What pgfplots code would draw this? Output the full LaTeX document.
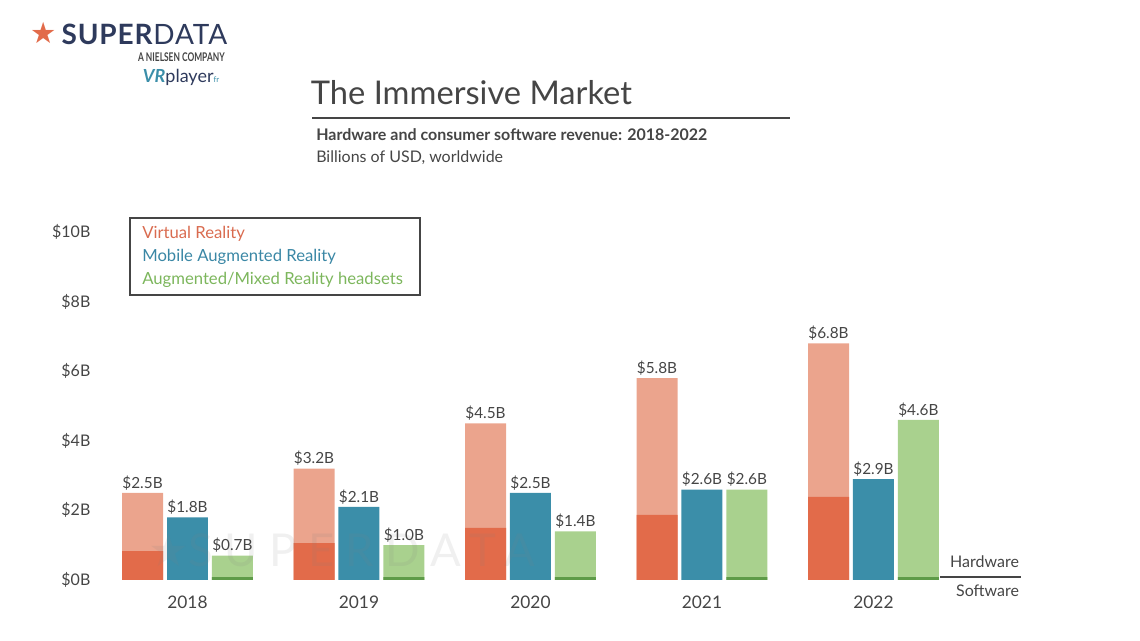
\documentclass[border=0pt]{standalone}
\usepackage{fontspec}
\setmainfont{Lato}
\newfontfamily\symfont{DejaVu Sans}
\usepackage{pgfplots}
\pgfplotsset{compat=1.18}
\definecolor{vrlight}{HTML}{EBA48D}
\definecolor{vrdark}{HTML}{E26B4A}
\definecolor{marblue}{HTML}{3B8EA9}
\definecolor{arlight}{HTML}{A9D18E}
\definecolor{ardark}{HTML}{5E9B48}
\definecolor{txt}{HTML}{454545}
\definecolor{navy}{HTML}{2E3A5C}
\definecolor{legvr}{HTML}{D96B4F}
\definecolor{legmar}{HTML}{3A87A5}
\definecolor{legar}{HTML}{7CB65C}
\begin{document}
\begin{tikzpicture}
\path[use as bounding box] (0,0) rectangle (855pt,480.75pt);
% logo
\node[anchor=center,text=vrdark,font=\symfont\fontsize{22}{22}\selectfont,inner sep=0] at (33pt,456pt) {★};
\node[anchor=west,text=navy,font=\fontsize{21}{21}\selectfont\addfontfeature{LetterSpace=3},inner sep=0] at (46pt,455pt) {\textbf{SUPER}DATA};
\node[anchor=east,text=txt,inner sep=0] at (168.75pt,438pt) {\scalebox{0.7}[1]{\fontsize{9}{9}\selectfont\bfseries A NIELSEN COMPANY}};
\node[anchor=west,inner sep=0,font=\fontsize{13.5}{13.5}\selectfont] at (107pt,423pt) {\textcolor{marblue}{\textbf{\textit{VR}}}\textcolor{navy}{player}\textcolor{marblue}{\fontsize{6}{6}\selectfont fr}};
% title
\node[anchor=base west,inner sep=0,text=txt,font=\fontsize{24.5}{24.5}\selectfont] at (233pt,402pt) {The Immersive Market};
\draw[txt,line width=1.3pt] (234pt,392.25pt) -- (592.5pt,392.25pt);
\node[anchor=base west,inner sep=0,text=txt,font=\fontsize{12}{12}\selectfont\bfseries] at (237pt,375pt) {Hardware and consumer software revenue: 2018-2022};
\node[anchor=base west,inner sep=0,text=txt,font=\fontsize{12}{12}\selectfont] at (237pt,358.5pt) {Billions of USD, worldwide};
% legend box
\draw[txt,line width=1pt] (97.5pt,259.5pt) rectangle (315pt,317.25pt);
\node[anchor=west,inner sep=0,text=legvr,font=\fontsize{12.5}{12.5}\selectfont] at (106.5pt,305.25pt) {Virtual Reality};
\node[anchor=west,inner sep=0,text=legmar,font=\fontsize{12.5}{12.5}\selectfont] at (106.5pt,288pt) {Mobile Augmented Reality};
\node[anchor=west,inner sep=0,text=legar,font=\fontsize{12.5}{12.5}\selectfont] at (106.5pt,270.75pt) {Augmented/Mixed Reality headsets};
\begin{axis}[
  at={(76.31pt,45.75pt)}, anchor=south west,
  scale only axis, width=643.1pt, height=261pt,
  xmin=-0.5, xmax=4.5, ymin=0, ymax=10,
  clip=false,
  axis line style={draw=none},
  major tick style={draw=none},
  xtick={0,1,2,3,4},
  xticklabels={2018,2019,2020,2021,2022},
  ytick={0,2,4,6,8,10},
  yticklabel={\$\pgfmathprintnumber{\tick}B},
  /pgf/number format/assume math mode=true,
  xticklabel style={font=\fontsize{13}{13}\selectfont, text=txt, yshift=-4pt},
  yticklabel style={font=\fontsize{12}{12}\selectfont, text=txt, xshift=-5pt},
  ybar, bar shift=0pt, bar width=0.239,
  every node near coord/.append style={font=\fontsize{11.5}{11.5}\selectfont, text=txt, inner sep=2pt},
]
% VR total (hardware + software)
\addplot[fill=vrlight, draw=none,
  nodes near coords={\$\pgfmathprintnumber[fixed,fixed zerofill,precision=1]{\pgfplotspointmeta}B}]
  coordinates {(-0.262,2.5) (0.738,3.2) (1.738,4.5) (2.738,5.8) (3.738,6.8)};
% VR software
\addplot[fill=vrdark, draw=none]
  coordinates {(-0.262,0.83) (0.738,1.06) (1.738,1.5) (2.738,1.87) (3.738,2.39)};
% Mobile AR
\addplot[fill=marblue, draw=none,
  nodes near coords={\$\pgfmathprintnumber[fixed,fixed zerofill,precision=1]{\pgfplotspointmeta}B}]
  coordinates {(0,1.8) (1,2.1) (2,2.5) (3,2.6) (4,2.9)};
% AR/MR headsets total
\addplot[fill=arlight, draw=none,
  nodes near coords={\$\pgfmathprintnumber[fixed,fixed zerofill,precision=1]{\pgfplotspointmeta}B}]
  coordinates {(0.262,0.7) (1.262,1.0) (2.262,1.4) (3.262,2.6) (4.262,4.6)};
% AR/MR software
\addplot[fill=ardark, draw=none]
  coordinates {(0.262,0.08) (1.262,0.08) (2.262,0.08) (3.262,0.08) (4.262,0.08)};
% hardware / software key
\draw[txt,line width=1pt] (axis cs:4.39,0.09) -- (axis cs:4.86,0.09);
\node[anchor=east,text=txt,font=\fontsize{12}{12}\selectfont,inner sep=0] at (axis cs:4.85,0.52) {Hardware};
\node[anchor=east,text=txt,font=\fontsize{12}{12}\selectfont,inner sep=0] at (axis cs:4.85,-0.32) {Software};
% watermark
\node[anchor=west,text=gray,opacity=0.12,inner sep=0,font=\fontsize{34}{34}\selectfont\addfontfeature{LetterSpace=25}] at (axis cs:-0.23,0.85) {{\symfont ★}SUPERDATA};
\end{axis}
\end{tikzpicture}
\end{document}
